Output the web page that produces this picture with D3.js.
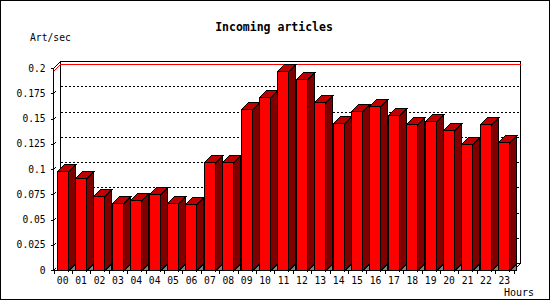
<!DOCTYPE html>
<html>
<head>
<meta charset="utf-8">
<script src="https://cdn.jsdelivr.net/npm/d3@7"></script>
<style>
  body { margin: 0; background: #fff; }
  svg { display: block; }
  text { font-family: "DejaVu Sans Mono", "Liberation Mono", monospace; fill: #000; }
</style>
</head>
<body>
<div class="segment"></div>
<script>
var width = 550, height = 300;

// hour labels as printed under the bars (04 appears twice in the source)
var hours = ["00","01","02","03","04","04","05","06","07","08","09","10",
             "11","12","13","14","15","16","17","18","19","20","21","22","23"];
var artPerSec = [0.098, 0.091, 0.0735, 0.066, 0.0695, 0.0755, 0.0665, 0.0655, 0.107, 0.107,
                 0.1597, 0.1712, 0.1967, 0.1895, 0.1667, 0.1454, 0.1577, 0.1623, 0.1538,
                 0.1448, 0.1478, 0.1389, 0.125, 0.1448, 0.127];
var yTicks = [0, 0.025, 0.05, 0.075, 0.1, 0.125, 0.15, 0.175, 0.2];

var depth = 7;
var left = 53.5, right = 513.5;

var svg1 = d3.select(".segment")
  .append("svg")
  .attr("width", width)
  .attr("height", height)
  .attr("shape-rendering", "crispEdges");

svg1.append("rect")
  .attr("x", 0.5).attr("y", 0.5)
  .attr("width", width - 1).attr("height", height - 1)
  .attr("fill", "#fff")
  .attr("stroke", "#000");

var x = d3.scaleBand()
  .domain(d3.range(hours.length))
  .range([left, right]);

var y = d3.scaleLinear()
  .domain([0, 0.2])
  .range([270, 68]);

var y0 = y(0) + 0.5;
var yTop = y(0.2) + 0.5;

// back wall frame
var back = svg1.append("g");
back.append("path")
  .attr("d", "M" + left + "," + yTop + "L" + (left + depth) + "," + (yTop - depth) +
             "H" + (right + depth) + "V" + (y0 - depth) + "L" + right + "," + y0)
  .attr("fill", "none").attr("stroke", "#000");
back.append("line")
  .attr("x1", left + depth).attr("x2", left + depth)
  .attr("y1", yTop - depth).attr("y2", y0 - depth)
  .attr("stroke", "#000");
back.append("line")
  .attr("x1", left + depth).attr("x2", right + depth)
  .attr("y1", y0 - depth).attr("y2", y0 - depth)
  .attr("stroke", "#000");

// dotted grid on the back wall
back.selectAll(".grid")
  .data(yTicks.filter(function (d) { return d > 0 && d < 0.2; }))
  .enter()
  .append("line")
  .attr("class", "grid")
  .attr("x1", left + depth).attr("x2", right + depth)
  .attr("y1", function (d) { return Math.round(y(d)) + 0.5 - depth; })
  .attr("y2", function (d) { return Math.round(y(d)) + 0.5 - depth; })
  .attr("stroke", "#000")
  .attr("stroke-dasharray", "2,2");

// max line in red
var maxVal = d3.max(artPerSec);
var yMax = Math.round(y(maxVal)) + 0.5;
svg1.append("path")
  .attr("d", "M" + left + "," + yMax + "L" + (left + depth) + "," + (yMax - depth) + "H" + (right + depth))
  .attr("fill", "none")
  .attr("stroke", "#ff0000");

// bars
var barW = 11.3, off = 3;
var bars = svg1.selectAll(".bar")
  .data(artPerSec)
  .enter()
  .append("g")
  .attr("class", "bar");

bars.append("path")
  .attr("d", function (d, i) {
    var bx = Math.round(x(i) + off) + 0.5 + barW;
    return "M" + bx + "," + y0 + "L" + (bx + depth) + "," + (y0 - depth) + "V" + y0 + "Z";
  })
  .attr("fill", "#808080")
  .attr("stroke", "#000");

bars.append("path")
  .attr("d", function (d, i) {
    var bx = Math.round(x(i) + off) + 0.5 + barW, by = Math.round(y(d)) + 0.5;
    return "M" + bx + "," + by + "L" + (bx + depth) + "," + (by - depth) +
           "V" + (y0 - depth) + "L" + bx + "," + y0 + "Z";
  })
  .attr("fill", "#800000")
  .attr("stroke", "#000");

bars.append("path")
  .attr("d", function (d, i) {
    var bx = Math.round(x(i) + off) + 0.5, by = Math.round(y(d)) + 0.5;
    return "M" + bx + "," + by + "L" + (bx + depth) + "," + (by - depth) +
           "H" + (bx + barW + depth) + "L" + (bx + barW) + "," + by + "Z";
  })
  .attr("fill", "#c00000")
  .attr("stroke", "#000");

bars.append("rect")
  .attr("x", function (d, i) { return Math.round(x(i) + off) + 0.5; })
  .attr("y", function (d) { return Math.round(y(d)) + 0.5; })
  .attr("width", barW)
  .attr("height", function (d) { return y0 - (Math.round(y(d)) + 0.5); })
  .attr("fill", "#ff0000")
  .attr("stroke", "#000");

// axes
svg1.append("line")
  .attr("x1", left).attr("x2", left)
  .attr("y1", yTop).attr("y2", y0)
  .attr("stroke", "#000");
svg1.append("line")
  .attr("x1", left).attr("x2", right)
  .attr("y1", y0).attr("y2", y0)
  .attr("stroke", "#000");

var yAxis = svg1.append("g");
yAxis.selectAll(".ytick")
  .data(yTicks)
  .enter()
  .append("path")
  .attr("class", "ytick")
  .attr("d", function (d) {
    var ty = Math.round(y(d)) + 0.5;
    return "M" + (left - 3) + "," + ty + "H" + left + "M" + left + "," + ty + "l2,-2";
  })
  .attr("fill", "none")
  .attr("stroke", "#000");
yAxis.selectAll(".ylab")
  .data(yTicks)
  .enter()
  .append("text")
  .attr("class", "ylab")
  .attr("x", 45.5)
  .attr("y", function (d) { return y(d) + 3.5; })
  .attr("text-anchor", "end")
  .style("font-size", "9.6px")
  .text(function (d) { return d3.format("")(d); });

var xAxis = svg1.append("g");
xAxis.selectAll(".xtick")
  .data(d3.range(hours.length + 1))
  .enter()
  .append("line")
  .attr("class", "xtick")
  .attr("x1", function (d) { return Math.round(left + d * x.step()) + 0.5; })
  .attr("x2", function (d) { return Math.round(left + d * x.step()) + 0.5; })
  .attr("y1", y0).attr("y2", y0 + 3.5)
  .attr("stroke", "#000");
xAxis.selectAll(".xlab")
  .data(hours)
  .enter()
  .append("text")
  .attr("class", "xlab")
  .attr("x", function (d, i) { return x(i) + x.bandwidth() / 2; })
  .attr("y", 283.5)
  .attr("text-anchor", "middle")
  .style("font-size", "9.7px")
  .text(function (d) { return d; });

// titles
svg1.append("text")
  .attr("x", 274).attr("y", 30.5)
  .attr("text-anchor", "middle")
  .style("font-size", "11.5px")
  .style("font-weight", "bold")
  .text("Incoming articles");
svg1.append("text")
  .attr("x", 30).attr("y", 40.5)
  .style("font-size", "9.7px")
  .text("Art/sec");
svg1.append("text")
  .attr("x", 534).attr("y", 295.5)
  .attr("text-anchor", "end")
  .style("font-size", "10px")
  .text("Hours");
</script>
</body>
</html>
